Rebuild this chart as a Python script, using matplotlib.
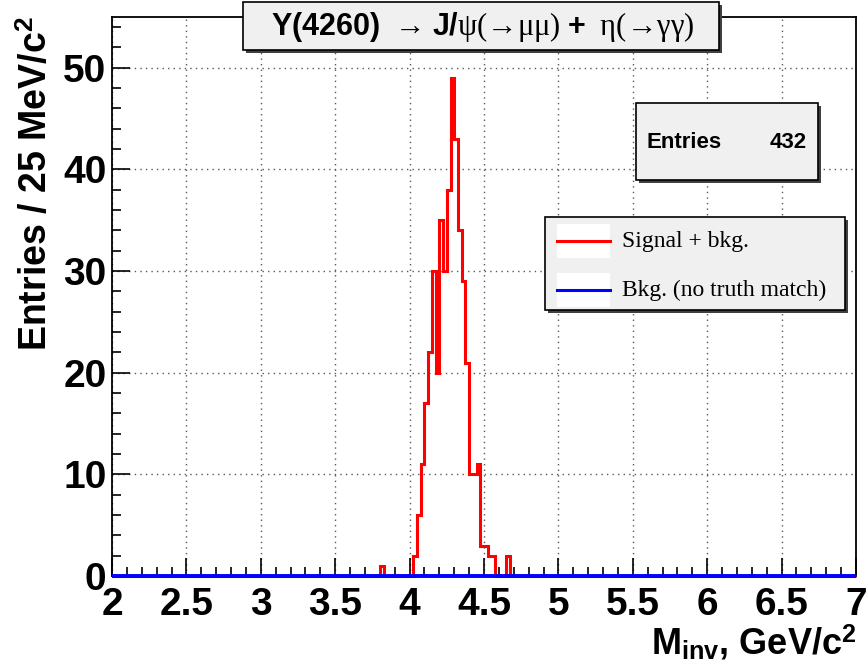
import numpy as np
import matplotlib
matplotlib.use("Agg")
import matplotlib.pyplot as plt
from matplotlib.patches import Rectangle
from matplotlib.lines import Line2D

# histogram binning (25 MeV bins from 2 to 7 GeV)
x_min, x_max = 2.0, 7.0
bin_width = 0.025
# signal + bkg entries per bin, starting at 3.800 GeV
sig_start = 3.8
sig_counts = [1, 0, 0, 0, 0, 0, 0, 0, 0,
              2, 6, 11, 17, 22, 30, 20, 35, 30, 38, 49, 43, 34, 29, 21,
              10, 10, 11, 3, 3, 2, 2, 0, 0, 0, 2]
n_entries = 432

x_ticks = [2, 2.5, 3, 3.5, 4, 4.5, 5, 5.5, 6, 6.5, 7]
x_ticklabels = ["2", "2.5", "3", "3.5", "4", "4.5", "5", "5.5", "6", "6.5", "7"]
y_ticks = [0, 10, 20, 30, 40, 50]

edges = np.linspace(x_min, x_max, int(round((x_max - x_min) / bin_width)) + 1)
counts = np.zeros(len(edges) - 1)
i0 = int(round((sig_start - x_min) / bin_width))
counts[i0:i0 + len(sig_counts)] = sig_counts
bkg_counts = np.zeros(len(edges) - 1)

plt.rcParams["mathtext.fontset"] = "custom"
plt.rcParams["mathtext.rm"] = "Liberation Serif"
plt.rcParams["mathtext.it"] = "Liberation Serif:italic"
plt.rcParams["mathtext.bf"] = "Liberation Sans:bold"
plt.rcParams["mathtext.sf"] = "Liberation Sans:bold"

W, H = 866, 667
fig = plt.figure(figsize=(W / 100, H / 100), dpi=100)


def fx(x):
    return x / W


def fy(y):
    return 1 - y / H


ax = fig.add_axes([fx(112), fy(576), fx(856) - fx(112), fy(17) - fy(576)])
ax.set_xlim(x_min, x_max)
ax.set_ylim(0, 55)

ax.stairs(counts, edges, baseline=0, color="red", lw=2.2, clip_on=False, zorder=3)
ax.stairs(bkg_counts, edges, baseline=0, color="blue", lw=2.8, clip_on=False, zorder=4)

# ROOT style: dotted grid, inward ticks on left/bottom only
ax.grid(True, which="major", color="0.35", linestyle=(0, (1, 3)), lw=1)
ax.set_xticks(x_ticks)
ax.set_xticklabels(x_ticklabels)
ax.set_xticks(np.arange(2.0, 7.01, 0.1), minor=True)
ax.set_yticks(y_ticks)
ax.set_yticks(np.arange(0, 55, 2), minor=True)
ax.tick_params(which="both", direction="in", top=False, right=False, width=1.2)
ax.tick_params(which="major", length=13)
ax.tick_params(which="minor", length=6.5)
lab_font = "Liberation Sans"
for lab in ax.get_xticklabels() + ax.get_yticklabels():
    lab.set_family(lab_font)
    lab.set_weight("bold")
    lab.set_fontsize(28)
ax.tick_params(axis="x", pad=8)
ax.tick_params(axis="y", pad=4)
for sp in ax.spines.values():
    sp.set_linewidth(1.3)

ax.set_ylabel("Entries / 25 MeV/c$^{\\mathsf{2}}$", family=lab_font, weight="bold", fontsize=27)
ax.yaxis.set_label_coords(fx(55), fy(184), transform=fig.transFigure)

fig.text(fx(857), fy(654), "M$_{\\mathsf{inv}}$, GeV/c$^{\\mathsf{2}}$", family=lab_font,
         weight="bold", fontsize=26, ha="right", va="baseline")


def box(x0, y0, x1, y1, shadow=3):
    fig.add_artist(Rectangle((fx(x0 + shadow), fy(y1 + shadow)), fx(x1 - x0), fy(y0) - fy(y1),
                             transform=fig.transFigure, facecolor="0.25", edgecolor="none"))
    fig.add_artist(Rectangle((fx(x0), fy(y1)), fx(x1 - x0), fy(y0) - fy(y1),
                             transform=fig.transFigure, facecolor="#f0f0f0",
                             edgecolor="black", lw=1.2))


# title box
box(243, 2, 719, 50)
fig.text(fx(483), fy(27),
         r"$\mathbf{Y(4260)}\ \ \mathrm{→}\ \mathbf{J/}\mathrm{ψ(→μμ)}"
         r"\ \mathbf{+}\ \ \mathrm{η(→γγ)}$",
         fontsize=22, ha="center", va="center")

# stats box
box(636, 103, 818, 180)
fig.text(fx(646), fy(142), "Entries", family="Liberation Sans", weight="bold",
         fontsize=16, ha="left", va="center")
fig.text(fx(807), fy(142), str(n_entries), family="Liberation Sans", weight="bold",
         fontsize=16, ha="right", va="center")

# legend box
box(545, 217, 845, 310)
for yc, col, txt in [(241, "red", "Signal + bkg."), (290, "blue", "Bkg. (no truth match)")]:
    fig.add_artist(Rectangle((fx(557), fy(yc + 17)), fx(53), fy(yc - 17) - fy(yc + 17),
                             transform=fig.transFigure, facecolor="white", edgecolor="none"))
    fig.add_artist(Line2D([fx(557), fx(610)], [fy(yc), fy(yc)], color=col, lw=2.2,
                          transform=fig.transFigure))
    fig.text(fx(622), fy(yc), txt, family="Liberation Serif", fontsize=17,
             ha="left", va="center")

fig.savefig("out.png", dpi=100)
